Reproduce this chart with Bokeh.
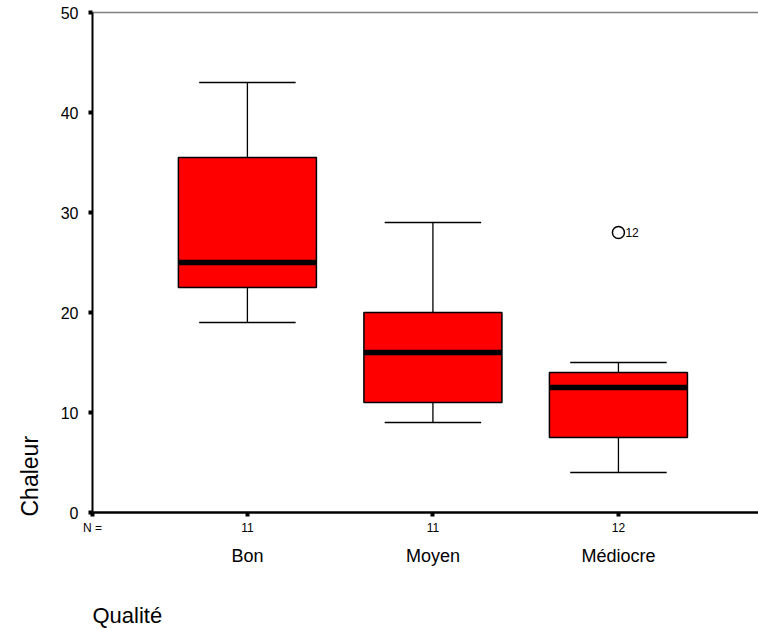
from bokeh.plotting import figure
from bokeh.models import LinearAxis, FixedTicker, Range1d, Title, ColumnDataSource
from bokeh.transform import dodge
from bokeh.embed import file_html
from bokeh.resources import INLINE

# ---- data ----
categories = ["Bon", "Moyen", "Médiocre"]
counts = [11, 11, 12]
q1 = [22.5, 11.0, 7.5]
medians = [25.0, 16.0, 12.5]
q3 = [35.5, 20.0, 14.0]
whisker_low = [19.0, 9.0, 4.0]
whisker_high = [43.0, 29.0, 15.0]
outlier_category = ["Médiocre"]
outlier_values = [28.0]
outlier_labels = ["12"]
y_ticks = [0, 10, 20, 30, 40, 50]

FONT = "Liberation Sans"
pos = [i + 1 for i in range(len(categories))]
BOX_W = 0.744
CAP_W = 0.52
X0, X1 = 0.165, 3.755

p = figure(width=758, height=629, output_backend="svg", toolbar_location=None,
           x_range=Range1d(X0, X1), y_range=Range1d(0, 50),
           x_axis_location=None, y_axis_location=None,
           min_border_left=92, min_border_right=0, min_border_top=12, min_border_bottom=117)
p.grid.visible = False
p.outline_line_color = None
p.background_fill_color = "white"
p.border_fill_color = "white"

# left axis
yax = LinearAxis(ticker=FixedTicker(ticks=y_ticks))
yax.axis_line_width = 2
yax.axis_line_color = "black"
yax.major_tick_out = 4
yax.major_tick_in = 0
yax.major_tick_line_width = 4
yax.minor_tick_line_color = None
yax.major_label_text_font = FONT
yax.major_label_text_font_size = "16px"
yax.major_label_text_color = "black"
yax.major_label_standoff = 10
p.add_layout(yax, "left")

# top line
tax = LinearAxis(ticker=FixedTicker(ticks=[]))
tax.axis_line_color = "#808080"
tax.axis_line_width = 1.5
tax.major_tick_line_color = None
tax.minor_tick_line_color = None
tax.major_label_text_font_size = "0px"
p.add_layout(tax, "above")

# bottom axis with counts
overrides = {X0: "N ="}
for x, n in zip(pos, counts):
    overrides[x] = str(n)
nax = LinearAxis(ticker=FixedTicker(ticks=[X0] + pos), major_label_overrides=overrides)
nax.axis_line_width = 2.5
nax.axis_line_color = "black"
nax.major_tick_out = 4
nax.major_tick_in = 0
nax.major_tick_line_width = 4
nax.minor_tick_line_color = None
nax.major_label_text_font = FONT
nax.major_label_text_font_size = "12px"
nax.major_label_text_color = "black"
nax.major_label_standoff = 4
p.add_layout(nax, "below")

# bottom axis with category names
cat_over = {x: c for x, c in zip(pos, categories)}
cax = LinearAxis(ticker=FixedTicker(ticks=pos), major_label_overrides=cat_over)
cax.axis_line_color = None
cax.major_tick_line_color = None
cax.minor_tick_line_color = None
cax.major_tick_out = 0
cax.major_tick_in = 0
cax.major_label_text_font = FONT
cax.major_label_text_font_size = "18px"
cax.major_label_text_color = "black"
cax.major_label_standoff = 8
p.add_layout(cax, "below")

# spacer axis: a single white (invisible) tick that only reserves room
sax = LinearAxis(ticker=FixedTicker(ticks=[X0]), major_label_overrides={X0: ""})
sax.axis_line_color = None
sax.major_tick_line_color = "white"
sax.major_tick_line_width = 1
sax.minor_tick_line_color = None
sax.major_tick_out = 31
sax.major_tick_in = 0
sax.major_label_standoff = 0
sax.major_label_text_font_size = "1px"
p.add_layout(sax, "below")

# axis titles
xt = Title(text="Qualité", align="left", text_font=FONT, text_font_size="22px",
           text_font_style="normal", text_color="black", standoff=2, offset=0)
p.add_layout(xt, "below")
yt = Title(text="Chaleur", align="left", text_font=FONT, text_font_size="23px",
           text_font_style="normal", text_color="black", standoff=29, offset=-4)
p.add_layout(yt, "left")

src = ColumnDataSource(dict(x=pos, q1=q1, q3=q3, med=medians,
                            lo=whisker_low, hi=whisker_high))
# whiskers
p.segment(x0="x", y0="lo", x1="x", y1="q1", source=src, line_color="black", line_width=1.3)
p.segment(x0="x", y0="q3", x1="x", y1="hi", source=src, line_color="black", line_width=1.3)
p.segment(x0=dodge("x", -CAP_W / 2), y0="lo", x1=dodge("x", CAP_W / 2), y1="lo",
          source=src, line_color="black", line_width=1.3)
p.segment(x0=dodge("x", -CAP_W / 2), y0="hi", x1=dodge("x", CAP_W / 2), y1="hi",
          source=src, line_color="black", line_width=1.3)
# boxes
p.vbar(x="x", width=BOX_W, bottom="q1", top="q3", source=src,
       fill_color="#ff0000", line_color="black", line_width=1.5)
# medians
p.segment(x0=dodge("x", -BOX_W / 2), y0="med", x1=dodge("x", BOX_W / 2), y1="med",
          source=src, line_color="black", line_width=5.5, line_cap="butt")

# outliers
ox = [categories.index(c) + 1 for c in outlier_category]
osrc = ColumnDataSource(dict(x=ox, y=outlier_values, t=outlier_labels))
p.scatter(x="x", y="y", source=osrc, marker="circle", size=12,
          fill_color="white", line_color="black", line_width=1.5)
p.text(x="x", y="y", text="t", source=osrc, x_offset=7, text_baseline="middle",
       text_font={"value": FONT}, text_font_size="12px", text_color="black")

open("out.html", "w").write(file_html(p, INLINE))
